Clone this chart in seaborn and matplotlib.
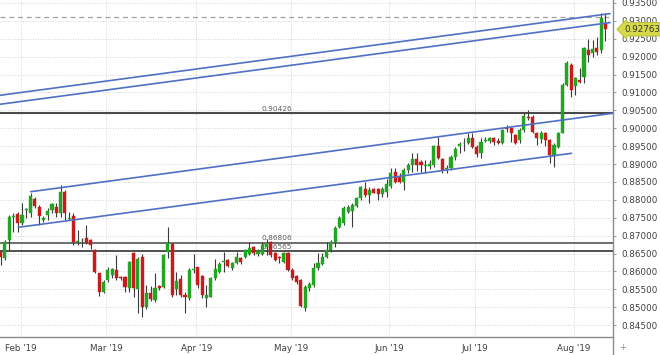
import numpy as np
import pandas as pd
import matplotlib
matplotlib.use("Agg")
import matplotlib.pyplot as plt
import seaborn as sns

# ---- data (EUR/GBP daily candles) ----
dates = pd.bdate_range("2019-01-25", "2019-08-12")

opens = [0.8655, 0.8637, 0.8688, 0.8753, 0.8760, 0.8734, 0.8772, 0.8762, 0.8802, 0.8779,
         0.8744, 0.8758, 0.8772, 0.8781, 0.8762, 0.8823, 0.8747, 0.8755, 0.8682, 0.8687,
         0.8694, 0.8687, 0.8660, 0.8595, 0.8543, 0.8576, 0.8590, 0.8604, 0.8585, 0.8585,
         0.8553, 0.8652, 0.8550, 0.8641, 0.8500, 0.8541, 0.8520, 0.8558, 0.8557, 0.8655,
         0.8676, 0.8550, 0.8578, 0.8534, 0.8525, 0.8603, 0.8612, 0.8587, 0.8527, 0.8530,
         0.8581, 0.8599, 0.8625, 0.8632, 0.8609, 0.8623, 0.8637, 0.8641, 0.8650, 0.8667,
         0.8650, 0.8650, 0.8669, 0.8683, 0.8652, 0.8640, 0.8627, 0.8651, 0.8604, 0.8587,
         0.8576, 0.8497, 0.8553, 0.8562, 0.8609, 0.8621, 0.8641, 0.8660, 0.8683, 0.8724,
         0.8734, 0.8767, 0.8770, 0.8783, 0.8804, 0.8829, 0.8813, 0.8829, 0.8829, 0.8816,
         0.8823, 0.8838, 0.8879, 0.8865, 0.8851, 0.8883, 0.8897, 0.8915, 0.8906, 0.8895,
         0.8895, 0.8897, 0.8950, 0.8915, 0.8886, 0.8888, 0.8920, 0.8950, 0.8958, 0.8958,
         0.8972, 0.8948, 0.8930, 0.8965, 0.8965, 0.8972, 0.8965, 0.8960, 0.9000, 0.9000,
         0.8980, 0.8967, 0.8995, 0.9032, 0.9032, 0.8986, 0.8969, 0.8986, 0.8967, 0.8922,
         0.8948, 0.8986, 0.9121, 0.9177, 0.9118, 0.9135, 0.9144, 0.9218, 0.9209, 0.9225,
         0.9218, 0.9295]
highs = [0.8660, 0.8688, 0.8758, 0.8762, 0.8767, 0.8792, 0.8777, 0.8818, 0.8809, 0.8786,
         0.8755, 0.8776, 0.8790, 0.8790, 0.8841, 0.8827, 0.8767, 0.8762, 0.8716, 0.8693,
         0.8730, 0.8692, 0.8664, 0.8596, 0.8576, 0.8613, 0.8610, 0.8646, 0.8587, 0.8587,
         0.8629, 0.8655, 0.8639, 0.8650, 0.8562, 0.8560, 0.8595, 0.8563, 0.8650, 0.8725,
         0.8679, 0.8599, 0.8590, 0.8543, 0.8609, 0.8650, 0.8613, 0.8590, 0.8562, 0.8585,
         0.8636, 0.8627, 0.8655, 0.8636, 0.8627, 0.8655, 0.8641, 0.8664, 0.8683, 0.8670,
         0.8662, 0.8683, 0.8690, 0.8686, 0.8655, 0.8643, 0.8653, 0.8653, 0.8609, 0.8590,
         0.8580, 0.8562, 0.8571, 0.8623, 0.8651, 0.8652, 0.8683, 0.8688, 0.8727, 0.8755,
         0.8783, 0.8786, 0.8791, 0.8807, 0.8840, 0.8851, 0.8837, 0.8832, 0.8832, 0.8837,
         0.8858, 0.8888, 0.8888, 0.8874, 0.8888, 0.8902, 0.8930, 0.8930, 0.8911, 0.8911,
         0.8912, 0.8953, 0.8976, 0.8918, 0.8897, 0.8925, 0.8948, 0.8962, 0.8972, 0.8988,
         0.8987, 0.8953, 0.8972, 0.8976, 0.8976, 0.8976, 0.8972, 0.8998, 0.9010, 0.9003,
         0.8983, 0.9000, 0.9042, 0.9051, 0.9037, 0.8990, 0.8993, 0.8990, 0.8969, 0.8960,
         0.8990, 0.9125, 0.9188, 0.9182, 0.9142, 0.9167, 0.9228, 0.9248, 0.9246, 0.9256,
         0.9321, 0.9321]
lows = [0.8618, 0.8632, 0.8660, 0.8711, 0.8711, 0.8730, 0.8749, 0.8753, 0.8776, 0.8730,
        0.8739, 0.8744, 0.8762, 0.8753, 0.8753, 0.8744, 0.8744, 0.8674, 0.8674, 0.8669,
        0.8676, 0.8664, 0.8595, 0.8531, 0.8541, 0.8571, 0.8581, 0.8576, 0.8576, 0.8543,
        0.8543, 0.8530, 0.8485, 0.8473, 0.8495, 0.8518, 0.8515, 0.8548, 0.8553, 0.8637,
        0.8529, 0.8534, 0.8529, 0.8485, 0.8520, 0.8595, 0.8553, 0.8525, 0.8501, 0.8528,
        0.8576, 0.8595, 0.8599, 0.8612, 0.8605, 0.8620, 0.8620, 0.8637, 0.8645, 0.8645,
        0.8642, 0.8645, 0.8646, 0.8640, 0.8630, 0.8623, 0.8624, 0.8600, 0.8576, 0.8564,
        0.8501, 0.8490, 0.8546, 0.8557, 0.8604, 0.8618, 0.8637, 0.8655, 0.8669, 0.8720,
        0.8729, 0.8762, 0.8723, 0.8781, 0.8800, 0.8809, 0.8790, 0.8818, 0.8799, 0.8807,
        0.8809, 0.8834, 0.8848, 0.8846, 0.8827, 0.8874, 0.8878, 0.8881, 0.8878, 0.8874,
        0.8885, 0.8892, 0.8913, 0.8874, 0.8874, 0.8883, 0.8911, 0.8930, 0.8937, 0.8955,
        0.8944, 0.8920, 0.8916, 0.8962, 0.8958, 0.8953, 0.8955, 0.8955, 0.8990, 0.8962,
        0.8955, 0.8958, 0.8990, 0.9022, 0.8986, 0.8953, 0.8960, 0.8950, 0.8902, 0.8893,
        0.8946, 0.8986, 0.9118, 0.9088, 0.9093, 0.9127, 0.9127, 0.9186, 0.9200, 0.9205,
        0.9209, 0.9244]
closes = [0.8640, 0.8683, 0.8753, 0.8755, 0.8734, 0.8758, 0.8775, 0.8811, 0.8783, 0.8755,
          0.8748, 0.8770, 0.8788, 0.8764, 0.8823, 0.8762, 0.8749, 0.8683, 0.8686, 0.8689,
          0.8680, 0.8674, 0.8599, 0.8543, 0.8571, 0.8604, 0.8606, 0.8581, 0.8582, 0.8557,
          0.8627, 0.8553, 0.8634, 0.8502, 0.8539, 0.8522, 0.8555, 0.8555, 0.8645, 0.8679,
          0.8534, 0.8574, 0.8534, 0.8528, 0.8604, 0.8607, 0.8562, 0.8534, 0.8535, 0.8581,
          0.8606, 0.8622, 0.8628, 0.8616, 0.8623, 0.8641, 0.8627, 0.8660, 0.8665, 0.8652,
          0.8658, 0.8674, 0.8679, 0.8646, 0.8632, 0.8637, 0.8651, 0.8604, 0.8581, 0.8571,
          0.8504, 0.8557, 0.8565, 0.8609, 0.8623, 0.8641, 0.8660, 0.8683, 0.8721, 0.8749,
          0.8776, 0.8781, 0.8786, 0.8804, 0.8837, 0.8813, 0.8827, 0.8820, 0.8816, 0.8829,
          0.8844, 0.8876, 0.8851, 0.8851, 0.8883, 0.8897, 0.8915, 0.8897, 0.8897, 0.8898,
          0.8900, 0.8950, 0.8916, 0.8883, 0.8890, 0.8920, 0.8943, 0.8957, 0.8960, 0.8972,
          0.8948, 0.8927, 0.8962, 0.8967, 0.8972, 0.8962, 0.8960, 0.8995, 0.8998, 0.8986,
          0.8959, 0.8995, 0.9034, 0.9028, 0.8990, 0.8974, 0.8986, 0.8967, 0.8925, 0.8953,
          0.8986, 0.9121, 0.9181, 0.9107, 0.9139, 0.9129, 0.9223, 0.9205, 0.9220, 0.9212,
          0.9307, 0.92763]

price_ticks = [0.845, 0.850, 0.855, 0.860, 0.865, 0.870, 0.875, 0.880, 0.885, 0.890,
               0.895, 0.900, 0.905, 0.910, 0.915, 0.920, 0.925, 0.930, 0.935]
month_labels = ["Feb '19", "Mar '19", "Apr '19", "May '19", "Jun '19", "Jul '19", "Aug '19"]
month_starts = ["2019-02-01", "2019-03-01", "2019-04-01", "2019-05-01", "2019-06-03",
                "2019-07-01", "2019-08-01"]

levels = [0.90426, 0.86806, 0.86565]
level_labels = ["0.90426", "0.86806", "0.86565"]
prev_high = 0.9310
last_price = 0.92763

# trend lines: (start date index, start price, end date index, end price)
trend_upper_a = ([-0.13, 142.06], [0.90920, 0.93202])
trend_upper_b = ([-0.13, 142.06], [0.90669, 0.92951])
trend_mid_top = ([7.0, 142.8], [0.88227, 0.90420])
trend_mid_bot = ([4.14, 133.1], [0.87233, 0.89300])

# ---- plotting ----
sns.set_style("white")
plt.rcParams["font.family"] = ["DejaVu Sans"]

df = pd.DataFrame({"date": dates, "open": opens, "high": highs, "low": lows, "close": closes})
df["i"] = np.arange(len(df))
df["up"] = df["close"] >= df["open"]

W, H = 660, 355
fig = plt.figure(figsize=(W / 100, H / 100), dpi=100)
ax = fig.add_axes([0, 18 / H, 613 / W, 337 / H])

green = "#22a522"
red = "#c81c1c"

# grid
month_pos = [df.index[df["date"] == pd.Timestamp(d)][0] - 0.35 for d in month_starts]
for p in price_ticks:
    ax.axhline(p, color="#c4c4c4", lw=0.6, ls=(0, (1, 2)), zorder=0)
for m in month_pos:
    ax.axvline(m, color="#c4c4c4", lw=0.6, ls=(0, (1, 2)), zorder=0)

# horizontal levels
ax.axhline(prev_high, color="#a0a0a0", lw=0.9, ls=(0, (4, 3)), zorder=1)
ax.axhline(levels[0], color="#4a4a4a", lw=1.5, zorder=1)
ax.axhline(levels[1], color="#6e6e6e", lw=1.4, zorder=1)
ax.axhline(levels[2], color="#505050", lw=1.4, zorder=1)
for lv, lab in zip(levels, level_labels):
    ax.text(60.9, lv + 0.0004, lab, fontsize=5.3, color="#606060", va="bottom", ha="left", zorder=1)

# wicks
ax.vlines(df["i"], df["low"], df["high"], color="#3a3a3a", lw=0.8, zorder=2)
# bodies
body_bottom = np.minimum(df["open"], df["close"])
body_h = np.maximum(np.abs(df["close"] - df["open"]), 0.00012)
colors = [green if u else red for u in df["up"]]
ax.bar(df["i"], body_h, bottom=body_bottom, width=0.72, color=colors, edgecolor=colors,
       linewidth=0.3, zorder=3)

# trend lines
blue = "#4f70c4"
for xs, ys in [trend_upper_a, trend_upper_b, trend_mid_top, trend_mid_bot]:
    sns.lineplot(x=xs, y=ys, ax=ax, color=blue, lw=1.2, zorder=4)

# axes limits
ax.set_xlim(-0.13, 142.76)
ax.set_ylim(0.84169, 0.93582)

# axes styling
for s in ["top", "left"]:
    ax.spines[s].set_visible(False)
for s in ["right", "bottom"]:
    ax.spines[s].set_color("#8c8c8c")
    ax.spines[s].set_linewidth(1.0)

ax.yaxis.tick_right()
ax.set_yticks(price_ticks)
ax.set_yticklabels([f"{p:.5f}" for p in price_ticks])
ax.tick_params(axis="y", which="both", length=2, width=0.6, color="#8c8c8c", pad=4,
               labelsize=6.3, labelcolor="#404040", right=True, left=False)
ax.set_xticks(month_pos)
ax.set_xticklabels(month_labels)
ax.tick_params(axis="x", length=0, pad=5, labelsize=6.3, labelcolor="#404040")
ax.set_xlabel("")
ax.set_ylabel("")

# current price tag
ax.annotate(f"{last_price:.5f}", xy=(1.0, last_price), xycoords=("axes fraction", "data"),
            xytext=(8, 0), textcoords="offset points", fontsize=6.3, color="#333333",
            va="center", ha="left", annotation_clip=False,
            bbox=dict(boxstyle="larrow,pad=0.25", fc="#d6da4a", ec="#b6ba2a", lw=0.6))

# separator below axis and small marker at bottom right
fig.add_artist(plt.Line2D([613 / W, 613 / W], [0, 18 / H], color="#8c8c8c", lw=1.0))
fig.text(623 / W, 7 / H, "+", fontsize=6, color="#8c8c8c", ha="center", va="center")

fig.savefig("out.png", dpi=100)
